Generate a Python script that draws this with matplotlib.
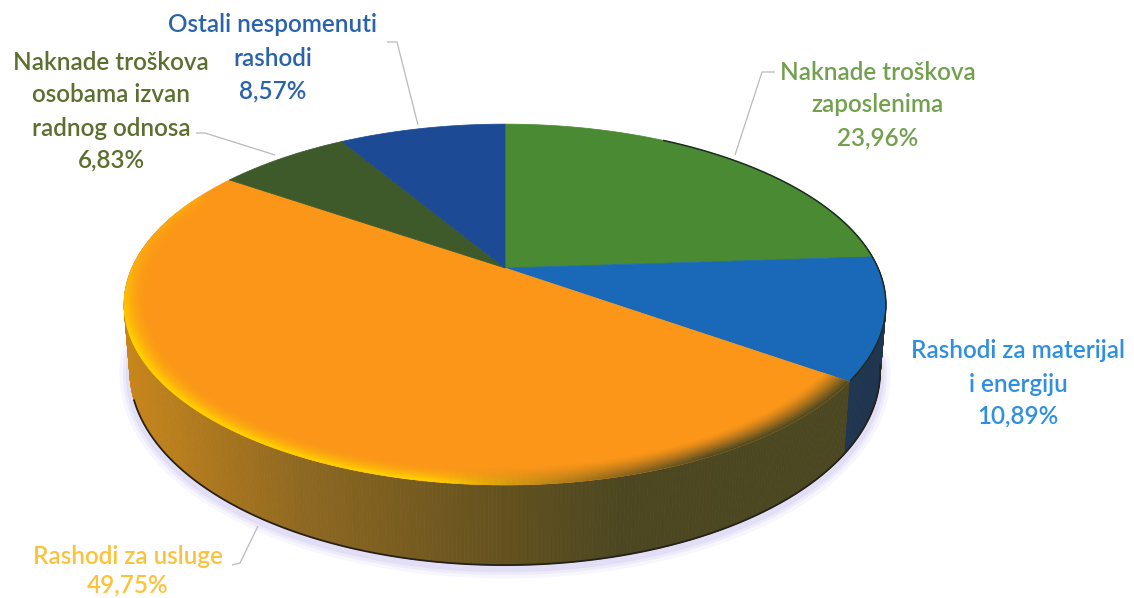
import numpy as np
import matplotlib
matplotlib.use("Agg")
import matplotlib.pyplot as plt
from matplotlib.collections import PolyCollection, LineCollection
from matplotlib.colors import to_rgb

plt.rcParams["font.family"] = ["Lato", "DejaVu Sans"]

# podaci
shares = [23.96, 10.89, 49.75, 6.83, 8.57]
top_colors = ["#4a8a32", "#1a69b8", "#fb9618", "#3f5a2a", "#1d4a94"]
wall_colors = ["#2f5226", "#1f3550", "#4c4822", "#2c3a1c", "#14305c"]
label_lines = [
    ["Naknade troškova", "zaposlenima", "23,96%"],
    ["Rashodi za materijal", "i energiju", "10,89%"],
    ["Rashodi za usluge", "49,75%"],
    ["Naknade troškova", "osobama izvan", "radnog odnosa", "6,83%"],
    ["Ostali nespomenuti", "rashodi", "8,57%"],
]
label_colors = ["#72a04f", "#2f8fe0", "#fcc23a", "#5b6f2e", "#2a62ac"]
label_x = [878, 1018, 128, 111, 273]
label_y = [[72, 105, 138], [350, 384, 416], [556, 585], [62, 94, 128, 160], [25, 58, 91]]
leaders = [
    [(775, 72), (762, 72), (735, 155)],
    [],
    [(232, 565), (240, 563), (258, 526)],
    [(196, 133), (205, 133), (275, 155)],
    [(387, 42), (397, 42), (418, 125)],
]
# boje stijenke narančastog dijela po x
wall_x = [130, 300, 505, 620, 860]
wall_r = [0.78, 0.56, 0.39, 0.30, 0.29]
wall_g = [0.52, 0.41, 0.32, 0.28, 0.28]
wall_b = [0.11, 0.13, 0.12, 0.13, 0.13]

# geometrija kolača u perspektivi
CX, CY = 505, 268
R, B, K = 373, 173, 0.2023
DEPTH = 64


def project(theta, s=1.0):
    t = np.radians(theta)
    u, v = s * np.sin(t), s * np.cos(t)
    w = 1 / (1 + K * v)
    return CX + R * u * w, CY - B * v * w


def project_low(theta):
    t = np.radians(theta)
    u, v = np.sin(t), np.cos(t)
    w = 1 / (1 + K * v)
    return CX + 0.985 * R * u * w, CY - B * v * w + DEPTH * w


def mix(a, b, f):
    a, b = np.array(to_rgb(a)), np.array(to_rgb(b))
    f = np.clip(f, 0, 1)
    return tuple(a + (b - a) * f)


edges = np.concatenate([[0], np.cumsum(shares)]) * 3.6
edges[-1] = 360

fig = plt.figure(figsize=(11.34, 5.98), dpi=100, facecolor="white")
ax = fig.add_axes([0, 0, 1, 1])
ax.set_xlim(0, 1134)
ax.set_ylim(598, 0)
ax.axis("off")

# sjena ispod kolača
th = np.linspace(98, 280, 300)
lx, ly = project_low(th)
for lw, a in zip([15, 10, 6], [0.14, 0.2, 0.3]):
    ax.plot(lx, ly + 3, color="#c9c2f0", lw=lw, alpha=a, solid_capstyle="round", zorder=1)

# bočna stijenka
th = np.linspace(70, 290, 441)
polys, cols = [], []
for a, b in zip(th[:-1], th[1:]):
    mid = (a + b) / 2
    x1, y1 = project(a)
    x2, y2 = project(b)
    x3, y3 = project_low(b)
    x4, y4 = project_low(a)
    polys.append([(x1, y1), (x2, y2), (x3, y3), (x4, y4)])
    idx = np.searchsorted(edges, mid) - 1
    if idx == 2:
        c = (np.interp(x1, wall_x, wall_r), np.interp(x1, wall_x, wall_g), np.interp(x1, wall_x, wall_b))
    else:
        c = wall_colors[idx]
    cols.append(c)
ax.add_collection(PolyCollection(polys, facecolors=cols, edgecolors=cols, linewidths=0.6, zorder=2))

# tamni donji rub
th = np.linspace(100, 250, 200)
lx, ly = project_low(th)
ax.plot(lx, ly, color="#26221a", lw=1.3, zorder=3)

# gornja ploha
for i in range(len(shares)):
    th = np.linspace(edges[i], edges[i + 1], 200)
    x, y = project(th)
    ax.fill(np.r_[CX, x], np.r_[CY, y], color=top_colors[i], lw=0.5, zorder=4)

# tamni rub desno
th = np.linspace(30, 125, 120)
x, y = project(th)
ax.plot(x, y, color="#1c2c22", lw=1.1, zorder=5)

# svjetlosni obrub narančastog dijela
scales = np.linspace(0.93, 1.0, 14)
th = np.linspace(edges[2], edges[3] - 8, 240)
polys, cols = [], []
for s1, s2 in zip(scales[:-1], scales[1:]):
    prof = (s1 - scales[0]) / (scales[-2] - scales[0])
    for a, b in zip(th[:-1], th[1:]):
        mid = (a + b) / 2
        x1, y1 = project(a, s1)
        x2, y2 = project(b, s1)
        x3, y3 = project(b, s2)
        x4, y4 = project(a, s2)
        polys.append([(x1, y1), (x2, y2), (x3, y3), (x4, y4)])
        glow = np.clip((mid - 165) / 25, 0, 1)
        fade = np.clip((288 - mid) / 40, 0.3, 1)
        hi = mix(top_colors[2], "#ffd000", glow * fade * prof ** 2.2)
        dark = mix(hi, wall_colors[2], np.clip((188 - mid) / 35, 0, 1) * prof ** 1.3 * 0.95)
        cols.append(dark)
ax.add_collection(PolyCollection(polys, facecolors=cols, edgecolors=cols, linewidths=0.5, zorder=5))

# linije do oznaka
for pts in leaders:
    if pts:
        ax.add_collection(LineCollection([pts], colors="#b9b9c0", linewidths=0.9, zorder=6))

# oznake
for lines, ys, x, c in zip(label_lines, label_y, label_x, label_colors):
    for txt, y in zip(lines, ys):
        ax.text(x, y, txt, color=c, fontsize=17.5, fontweight="semibold", ha="center", va="center", zorder=7)

fig.savefig("out.png", dpi=100)
